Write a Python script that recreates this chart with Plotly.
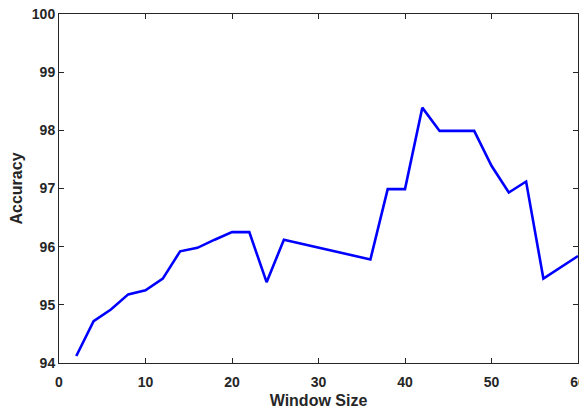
import plotly.graph_objects as go

window_size = [2, 4, 6, 8, 10, 12, 14, 16, 18, 20, 22, 24, 26, 36, 38, 40, 42, 44, 46, 48, 50, 52, 54, 56, 60]
accuracy = [94.12, 94.72, 94.92, 95.18, 95.25, 95.45, 95.92, 95.98, 96.12, 96.25, 96.25, 95.39, 96.12,
            95.78, 96.99, 96.99, 98.39, 97.99, 97.99, 97.99, 97.39, 96.93, 97.12, 95.45, 95.84]

x_ticks = [0, 10, 20, 30, 40, 50, 60]
y_ticks = [94, 95, 96, 97, 98, 99, 100]

fig = go.Figure()
fig.add_trace(go.Scatter(x=window_size, y=accuracy, mode="lines",
                         line=dict(color="#0000ff", width=2.6), showlegend=False))

axis_common = dict(showline=True, linecolor="#262626", linewidth=1, mirror="ticks",
                   ticks="inside", ticklen=5, tickcolor="#262626", tickwidth=1,
                   showgrid=False, zeroline=False, ticklabeloverflow="allow", automargin=False,
                   tickfont=dict(family="Liberation Sans, Arial", size=14, color="#262626"),
                   title_font=dict(family="Liberation Sans, Arial", size=16, color="#262626"))

fig.update_xaxes(range=[0, 60], tickvals=x_ticks, ticktext=[f"<b>{v}</b>" for v in x_ticks],
                 ticklabelstandoff=6,
                 title_text="<b>Window Size</b>", title_standoff=6, **axis_common)
fig.update_yaxes(range=[94, 100], tickvals=y_ticks, ticktext=[f"<b>{v}</b>" for v in y_ticks],
                 title_text="<b>Accuracy</b>", title_standoff=11, **axis_common)

# page body adds an 8px offset, so the figure is shifted accordingly
fig.update_layout(width=579, height=403, margin=dict(l=51, r=9, t=6, b=48, autoexpand=False),
                  paper_bgcolor="white", plot_bgcolor="white")

fig.write_html("out.html")
